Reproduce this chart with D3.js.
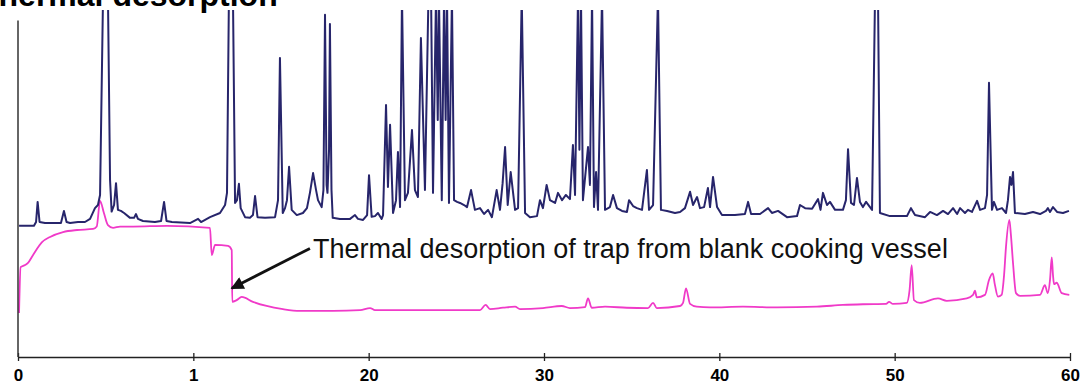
<!DOCTYPE html>
<html>
<head>
<meta charset="utf-8">
<script src="https://cdn.jsdelivr.net/npm/d3@7"></script>
<style>
  body { margin: 0; background: #fff; }
  svg { display: block; }
</style>
</head>
<body>
<svg width="1085" height="385"></svg>
<script>
// retention time (min) on x, detector response (% of full scale) on y
const tickValues = [0, 10, 20, 30, 40, 50, 60]
const tickLabels = ['0', '1', '20', '30', '40', '50', '60']

// upper trace: sample
const sampleTrace = [
  [0.06, 37.8], [0.91, 37.8], [1.03, 38.9], [1.12, 44.7], [1.23, 38.9], [1.54, 38.6], [2.11, 38.6],
  [2.45, 38.6], [2.62, 42.1], [2.77, 38.9], [2.97, 38.6], [3.42, 38.9], [3.82, 38.9], [4.11, 39.8],
  [4.39, 42.9], [4.56, 43.8], [4.68, 46.7], [4.85, 104], [5.13, 104], [5.25, 51.0], [5.34, 41.9],
  [5.48, 43.8], [5.59, 50.1], [5.70, 42.4], [5.87, 42.1], [6.05, 41.5], [6.39, 40.1], [6.62, 40.1],
  [6.73, 41.2], [6.84, 39.8], [7.13, 39.2], [7.81, 38.9], [8.16, 39.2], [8.33, 44.7], [8.47, 39.2],
  [8.78, 38.9], [9.81, 38.6], [10.27, 39.8], [10.44, 38.9], [10.95, 40.3], [11.52, 41.5], [11.81, 43.8],
  [11.92, 47.3], [12.03, 104], [12.26, 104], [12.38, 44.4], [12.49, 45.2], [12.60, 49.9], [12.70, 42.9],
  [12.95, 40.3], [13.23, 40.1], [13.40, 40.9], [13.52, 46.4], [13.66, 40.3], [14.09, 40.1], [14.66, 40.3],
  [14.83, 45.2], [14.94, 86.2], [15.10, 41.5], [15.23, 42.9], [15.34, 45.2], [15.46, 54.8], [15.61, 42.4],
  [15.90, 40.9], [16.25, 41.5], [16.48, 42.9], [16.65, 47.3], [16.83, 53.0], [17.00, 48.1], [17.11, 45.2],
  [17.32, 43.2], [17.42, 48.1], [17.51, 98.6], [17.60, 49.6], [17.65, 47.3], [17.74, 59.7], [17.79, 96.0],
  [17.88, 48.1], [17.95, 40.1], [18.36, 39.8], [18.94, 39.8], [19.22, 40.9], [19.39, 39.8], [19.68, 39.5],
  [19.91, 40.9], [20.02, 52.4], [20.17, 40.4], [20.36, 40.6], [20.53, 41.5], [20.74, 39.8], [20.82, 40.9],
  [20.99, 72.6], [21.10, 49.0], [21.22, 66.9], [21.39, 41.5], [21.56, 45.2], [21.67, 59.1], [21.79, 43.2],
  [21.90, 104], [22.07, 45.2], [22.24, 47.3], [22.47, 65.4], [22.64, 48.1], [22.81, 46.1], [22.98, 91.9],
  [23.21, 48.1], [23.41, 104], [23.56, 104], [23.67, 47.3], [23.84, 104], [23.94, 68.3], [24.01, 104],
  [24.17, 45.2], [24.30, 104], [24.39, 68.3], [24.47, 104], [24.58, 44.4], [24.75, 104], [24.87, 45.2],
  [25.04, 44.7], [25.21, 44.4], [25.44, 43.8], [25.61, 43.2], [25.84, 48.1], [26.06, 42.4], [26.35, 42.9],
  [26.58, 41.2], [26.81, 42.4], [27.03, 40.3], [27.30, 48.1], [27.49, 42.4], [27.64, 50.1], [27.78, 60.5],
  [27.93, 43.8], [28.10, 53.3], [28.35, 42.4], [28.52, 42.9], [28.73, 104], [28.92, 41.5], [29.20, 40.3],
  [29.60, 40.6], [29.77, 45.2], [29.94, 42.9], [30.15, 49.6], [30.34, 45.2], [30.63, 44.4], [30.80, 47.3],
  [31.03, 45.2], [31.25, 46.7], [31.48, 45.5], [31.65, 61.1], [31.77, 46.7], [31.94, 104], [32.02, 59.7],
  [32.11, 104], [32.22, 45.2], [32.51, 60.5], [32.62, 49.6], [32.74, 104], [32.85, 43.2], [32.97, 53.3],
  [33.08, 42.4], [33.31, 104], [33.48, 42.4], [33.76, 43.2], [33.94, 46.7], [34.16, 42.9], [34.45, 42.1],
  [34.73, 41.8], [34.85, 45.2], [35.08, 43.5], [35.30, 42.9], [35.59, 42.4], [35.87, 53.9], [35.99, 42.4],
  [36.22, 43.8], [36.50, 104], [36.67, 42.4], [37.02, 42.1], [37.47, 41.5], [37.76, 41.8], [38.04, 42.9],
  [38.33, 47.6], [38.50, 43.8], [38.73, 46.1], [38.90, 42.9], [39.13, 43.2], [39.35, 48.7], [39.47, 43.2],
  [39.64, 51.9], [39.87, 43.2], [40.15, 40.9], [40.89, 40.9], [41.46, 41.2], [41.64, 44.7], [41.81, 41.2],
  [42.32, 41.2], [42.78, 42.9], [43.00, 41.5], [43.35, 42.1], [43.86, 40.3], [44.43, 40.6], [44.60, 43.8],
  [44.89, 42.9], [45.29, 42.7], [45.63, 45.5], [45.77, 42.4], [45.91, 47.3], [46.14, 43.8], [46.31, 44.7],
  [46.60, 42.4], [47.05, 42.4], [47.22, 45.2], [47.34, 59.9], [47.51, 44.4], [47.68, 43.8], [47.85, 51.6],
  [48.02, 44.7], [48.19, 43.2], [48.37, 44.7], [48.71, 42.4], [48.88, 104], [49.05, 104], [49.16, 41.5],
  [49.73, 40.6], [50.70, 40.6], [50.93, 42.9], [51.16, 40.9], [51.73, 40.3], [52.02, 41.8], [52.41, 40.9],
  [52.76, 42.1], [53.04, 41.2], [53.33, 42.9], [53.56, 41.2], [53.73, 42.9], [54.01, 41.5], [54.18, 42.4],
  [54.41, 41.8], [54.70, 45.0], [54.87, 42.4], [55.15, 42.9], [55.27, 46.7], [55.38, 79.0], [55.55, 42.4],
  [55.66, 44.7], [55.84, 42.4], [56.12, 42.9], [56.35, 41.5], [56.46, 45.2], [56.58, 51.9], [56.66, 49.6],
  [56.75, 53.3], [56.86, 41.5], [57.43, 41.2], [57.89, 41.8], [58.29, 41.2], [58.63, 42.1], [58.74, 42.9],
  [58.86, 41.8], [59.03, 43.2], [59.26, 41.8], [59.60, 41.5], [59.94, 42.1]
]

// lower trace: blank cooking vessel
const blankTrace = [
  [0.06, 12.7], [0.15, 25.9], [0.40, 26.5], [0.57, 27.1], [0.86, 29.4], [1.37, 33.1], [1.83, 34.6],
  [2.57, 36.0], [3.37, 36.6], [4.28, 36.9], [4.49, 37.6], [4.68, 45.0], [4.90, 41.5], [5.13, 38.0],
  [5.42, 37.2], [5.82, 37.6], [6.56, 37.6], [8.50, 37.8], [10.95, 37.2], [11.05, 29.4], [11.24, 32.3],
  [11.98, 32.0], [12.19, 30.8], [12.22, 15.9], [12.47, 16.4], [12.76, 17.3], [13.40, 15.9], [14.18, 14.7],
  [15.11, 13.8], [16.08, 13.3], [17.97, 13.3], [19.51, 13.5], [20.08, 14.1], [20.36, 13.5], [23.78, 13.5],
  [26.35, 13.5], [26.67, 15.0], [26.92, 13.8], [27.66, 14.2], [28.35, 14.5], [28.63, 13.8], [29.94, 14.1],
  [31.01, 14.7], [31.48, 14.1], [32.34, 14.4], [32.51, 16.9], [32.72, 14.2], [33.48, 14.5], [34.72, 14.2],
  [35.93, 14.1], [36.22, 15.6], [36.43, 14.1], [37.76, 14.7], [37.93, 15.6], [38.10, 19.8], [38.33, 15.3],
  [38.71, 14.5], [39.47, 14.3], [41.35, 14.5], [43.29, 14.3], [45.57, 14.5], [47.05, 15.0], [48.19, 15.2],
  [49.51, 15.3], [49.68, 15.9], [49.90, 15.3], [50.69, 15.6], [50.85, 19.3], [50.97, 26.5], [51.10, 16.4],
  [51.44, 15.6], [52.47, 16.9], [52.97, 16.2], [54.11, 16.9], [54.47, 17.9], [54.58, 19.1], [54.68, 17.2],
  [55.15, 17.9], [55.38, 22.2], [55.59, 24.1], [55.72, 20.7], [55.89, 17.4], [56.10, 17.9], [56.24, 23.6],
  [56.35, 31.8], [56.54, 39.5], [56.63, 35.2], [56.75, 27.1], [56.92, 18.4], [57.15, 17.6], [58.29, 17.9],
  [58.57, 20.7], [58.73, 18.4], [58.86, 22.2], [58.96, 28.7], [59.03, 23.6], [59.09, 21.0], [59.24, 21.4],
  [59.53, 18.4], [59.96, 17.9]
]

const titleText = 'Thermal desorption'
const noteText = 'Thermal desorption of trap from blank cooking vessel'
// note anchor, arrow start and arrow tip, in data units
const noteAt = [16.83, 28.5]
const arrowFrom = [16.65, 31.3]
const arrowTo = [12.19, 19.8]

const width = 1085
const height = 385
const margin = {top: 10, right: 15, bottom: 28, left: 18}

const svg = d3.select('svg')

const x = d3.scaleLinear()
  .domain([0, 60])
  .range([margin.left, width - margin.right])

const y = d3.scaleLinear()
  .domain([0, 100])
  .range([height - margin.bottom, margin.top])

svg.append('defs')
  .call(g => g.append('clipPath')
    .attr('id', 'plot-clip')
    .append('rect')
      .attr('x', margin.left)
      .attr('y', margin.top)
      .attr('width', width - margin.left)
      .attr('height', height - margin.top - margin.bottom))
  .call(g => g.append('marker')
    .attr('id', 'arrow-head')
    .attr('viewBox', '0 0 10 10')
    .attr('refX', 9)
    .attr('refY', 5)
    .attr('markerWidth', 15)
    .attr('markerHeight', 13)
    .attr('markerUnits', 'userSpaceOnUse')
    .attr('orient', 'auto')
    .append('path')
      .attr('d', 'M0,0L10,5L0,10z')
      .attr('fill', '#111'))

// title, cut off by the top edge like the scan
svg.append('text')
  .attr('x', -21)
  .attr('y', 6)
  .attr('font-family', 'Liberation Sans, Arial, sans-serif')
  .attr('font-weight', 'bold')
  .attr('font-size', 32)
  .attr('fill', '#000')
  .text(titleText)

const line = d3.line()
  .x(d => x(d[0]))
  .y(d => y(d[1]))

const traces = svg.append('g').attr('clip-path', 'url(#plot-clip)')

traces.append('path')
  .datum(blankTrace)
  .attr('fill', 'none')
  .attr('stroke', '#f03ac8')
  .attr('stroke-width', 1.8)
  .attr('stroke-linejoin', 'round')
  .attr('d', line.curve(d3.curveMonotoneX))

traces.append('path')
  .datum(sampleTrace)
  .attr('fill', 'none')
  .attr('stroke', '#27256b')
  .attr('stroke-width', 2)
  .attr('stroke-linejoin', 'round')
  .attr('d', line.curve(d3.curveLinear))

// axes
const xAxis = g => g
  .attr('transform', `translate(0, ${y(0)})`)
  .call(d3.axisBottom(x).tickValues(tickValues).tickFormat((d, i) => tickLabels[i]).tickSizeOuter(0))
  .call(g => g.select('.domain').attr('stroke', '#222').attr('stroke-width', 1.5))
  .call(g => g.selectAll('.tick line').attr('y1', -4).attr('y2', 4).attr('stroke', '#222').attr('stroke-width', 1.3))
  .call(g => g.selectAll('.tick text')
    .attr('y', 24)
    .attr('dy', 0)
    .attr('fill', '#000')
    .attr('font-family', 'Liberation Sans, Arial, sans-serif')
    .attr('font-weight', 'bold')
    .attr('font-size', 17))

svg.append('g').call(xAxis)

svg.append('line')
  .attr('x1', x(0))
  .attr('x2', x(0))
  .attr('y1', y(97))
  .attr('y2', y(0))
  .attr('stroke', '#333')
  .attr('stroke-width', 1.5)

// annotation
svg.append('line')
  .attr('x1', x(arrowFrom[0]))
  .attr('y1', y(arrowFrom[1]))
  .attr('x2', x(arrowTo[0]))
  .attr('y2', y(arrowTo[1]))
  .attr('stroke', '#111')
  .attr('stroke-width', 2.8)
  .attr('marker-end', 'url(#arrow-head)')

svg.append('text')
  .attr('x', x(noteAt[0]))
  .attr('y', y(noteAt[1]))
  .attr('font-family', 'Liberation Sans, Arial, sans-serif')
  .attr('font-size', 27)
  .attr('fill', '#111')
  .text(noteText)
</script>
</body>
</html>
